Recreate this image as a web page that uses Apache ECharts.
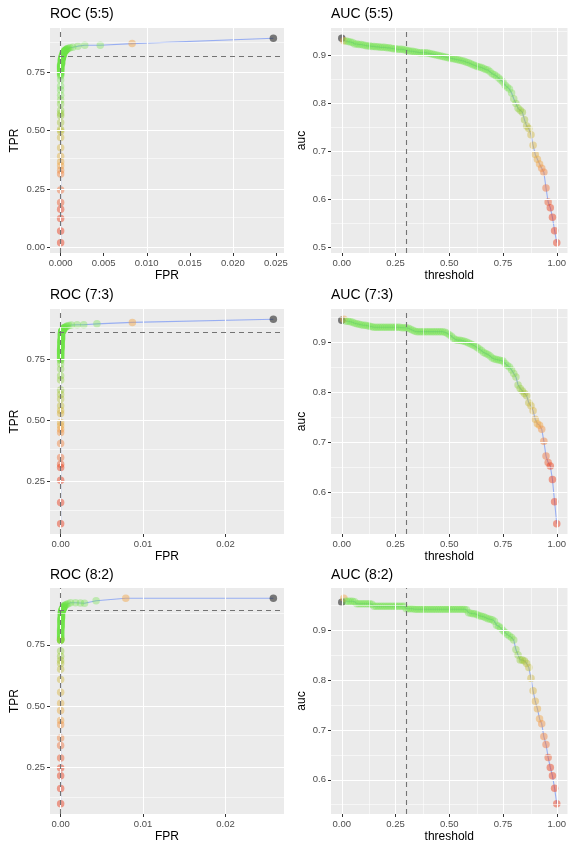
<!DOCTYPE html>
<html>
<head>
<meta charset="utf-8">
<script src="https://cdn.jsdelivr.net/npm/echarts@6/dist/echarts.min.js"></script>
<style>
  html, body { margin: 0; padding: 0; background: #fff; }
  #chart { width: 569px; height: 846px; }
</style>
</head>
<body>
<div id="chart"></div>
<script>
// threshold of every point (same for all six panels)
const thresholds = [
  0.00, 0.01, 0.02, 0.03, 0.04, 0.05, 0.06, 0.07, 0.08, 0.09,
  0.10, 0.11, 0.12, 0.13, 0.14, 0.15, 0.16, 0.17, 0.18, 0.19,
  0.20, 0.21, 0.22, 0.23, 0.24, 0.25, 0.26, 0.27, 0.28, 0.29,
  0.30, 0.31, 0.32, 0.33, 0.34, 0.35, 0.36, 0.37, 0.38, 0.39,
  0.40, 0.41, 0.42, 0.43, 0.44, 0.45, 0.46, 0.47, 0.48, 0.49,
  0.50, 0.51, 0.52, 0.53, 0.54, 0.55, 0.56, 0.57, 0.58, 0.59,
  0.60, 0.61, 0.62, 0.63, 0.64, 0.65, 0.66, 0.67, 0.68, 0.69,
  0.70, 0.71, 0.72, 0.73, 0.74, 0.75, 0.76, 0.77, 0.78, 0.79,
  0.80, 0.81, 0.82, 0.83, 0.84, 0.85, 0.86, 0.87, 0.88, 0.89,
  0.90, 0.91, 0.92, 0.93, 0.94, 0.95, 0.96, 0.97, 0.98, 0.99,
  1.00
];

// ROC 5:5
const fpr55 = [
  0.0247, 0.0083, 0.0046, 0.0028, 0.0020, 0.0014, 0.0011, 0.0009, 0.0008, 0.0007,
  0.0007, 0.0006, 0.0006, 0.0006, 0.0005, 0.0005, 0.0005, 0.0005, 0.0004, 0.0004,
  0.0004, 0.0004, 0.0004, 0.0003, 0.0003, 0.0003, 0.0003, 0.0003, 0.0003, 0.0003,
  0.00027, 0.0002, 0.0002, 0.0002, 0.0002, 0.0002, 0.0002, 0.0002, 0.0002, 0.0002,
  0.0002, 0.0001, 0.0001, 0.0001, 0.0001, 0.0001, 0.0001, 0.0001, 0.0001, 0.0001,
  0.0001, 0.0001, 0.0001, 0.0001, 0.0001, 0.0001, 0, 0, 0, 0,
  0, 0, 0, 0, 0, 0, 0, 0, 0, 0,
  0, 0, 0, 0, 0, 0, 0, 0, 0, 0,
  0, 0, 0, 0, 0, 0, 0, 0, 0, 0,
  0, 0, 0, 0, 0, 0, 0, 0, 0, 0,
  0
];
const tpr55 = [
  0.896, 0.873, 0.866, 0.866, 0.862, 0.857, 0.855, 0.853, 0.851, 0.850,
  0.848, 0.846, 0.845, 0.844, 0.843, 0.842, 0.841, 0.840, 0.839, 0.838,
  0.837, 0.836, 0.834, 0.833, 0.831, 0.830, 0.828, 0.827, 0.825, 0.824,
  0.822, 0.821, 0.820, 0.818, 0.817, 0.816, 0.815, 0.814, 0.812, 0.811,
  0.810, 0.808, 0.807, 0.805, 0.804, 0.802, 0.801, 0.799, 0.797, 0.796,
  0.794, 0.792, 0.790, 0.789, 0.787, 0.785, 0.783, 0.781, 0.779, 0.777,
  0.775, 0.773, 0.771, 0.769, 0.767, 0.765, 0.763, 0.761, 0.758, 0.755,
  0.752, 0.749, 0.746, 0.743, 0.740, 0.734, 0.717, 0.691, 0.674, 0.652,
  0.631, 0.614, 0.588, 0.574, 0.564, 0.535, 0.505, 0.498, 0.471, 0.427,
  0.391, 0.367, 0.350, 0.331, 0.314, 0.246, 0.193, 0.164, 0.124, 0.070,
  0.020
];
const auc55 = [
  0.936, 0.931, 0.930, 0.929, 0.928, 0.927, 0.924, 0.924, 0.923, 0.923,
  0.922, 0.921, 0.920, 0.920, 0.919, 0.919, 0.918, 0.918, 0.917, 0.917,
  0.917, 0.916, 0.916, 0.915, 0.914, 0.914, 0.913, 0.913, 0.913, 0.912,
  0.911, 0.910, 0.909, 0.909, 0.908, 0.907, 0.906, 0.906, 0.906, 0.906,
  0.905, 0.904, 0.903, 0.902, 0.901, 0.900, 0.899, 0.898, 0.897, 0.896,
  0.895, 0.894, 0.893, 0.892, 0.891, 0.890, 0.889, 0.888, 0.886, 0.885,
  0.883, 0.881, 0.879, 0.877, 0.876, 0.875, 0.873, 0.871, 0.870, 0.866,
  0.862, 0.860, 0.857, 0.853, 0.849, 0.845, 0.838, 0.834, 0.830, 0.822,
  0.810, 0.800, 0.790, 0.786, 0.782, 0.766, 0.753, 0.748, 0.735, 0.713,
  0.694, 0.684, 0.674, 0.665, 0.657, 0.624, 0.595, 0.583, 0.563, 0.535,
  0.510
];

// ROC 7:3
const fpr73 = [
  0.0258, 0.0087, 0.0044, 0.0028, 0.0020, 0.0013, 0.0010, 0.0008, 0.0007, 0.0006,
  0.0005, 0.0004, 0.0004, 0.0004, 0.0004, 0.0004, 0.0003, 0.0003, 0.0003, 0.0003,
  0.0003, 0.0003, 0.0003, 0.00015, 0.00015, 0.00015, 0.00015, 0.00015, 0.00015, 0.00015,
  0.00012, 0.0001, 0.0001, 0.0001, 0.0001, 0.0001, 0.0001, 0.0001, 0.0001, 0.0001,
  0.0001, 0.0001, 0.0001, 0.0001, 0.0001, 0.0001, 0.00005, 0.00005, 0.00005, 0.00005,
  0.00005, 0.00005, 0.00005, 0.00005, 0.00005, 0.00005, 0.00005, 0.00005, 0.00005, 0.00005,
  0.00005, 0, 0, 0, 0, 0, 0, 0, 0, 0,
  0, 0, 0, 0, 0, 0, 0, 0, 0, 0,
  0, 0, 0, 0, 0, 0, 0, 0, 0, 0,
  0, 0, 0, 0, 0, 0, 0, 0, 0, 0,
  0
];
const tpr73 = [
  0.915, 0.902, 0.896, 0.892, 0.892, 0.891, 0.889, 0.887, 0.885, 0.883,
  0.881, 0.880, 0.879, 0.878, 0.877, 0.876, 0.875, 0.874, 0.873, 0.872,
  0.871, 0.870, 0.869, 0.868, 0.867, 0.866, 0.865, 0.864, 0.863, 0.862,
  0.861, 0.859, 0.857, 0.855, 0.853, 0.851, 0.849, 0.847, 0.845, 0.843,
  0.841, 0.839, 0.837, 0.835, 0.833, 0.831, 0.829, 0.827, 0.825, 0.823,
  0.820, 0.818, 0.815, 0.813, 0.810, 0.808, 0.806, 0.803, 0.801, 0.799,
  0.796, 0.794, 0.792, 0.789, 0.787, 0.785, 0.782, 0.780, 0.778, 0.775,
  0.773, 0.770, 0.768, 0.765, 0.762, 0.759, 0.756, 0.752, 0.748, 0.745,
  0.731, 0.710, 0.683, 0.665, 0.624, 0.605, 0.587, 0.559, 0.540, 0.527,
  0.490, 0.477, 0.463, 0.449, 0.404, 0.346, 0.319, 0.305, 0.253, 0.161,
  0.074
];
const auc73 = [
  0.945, 0.947, 0.943, 0.943, 0.942, 0.941, 0.939, 0.938, 0.937, 0.936,
  0.935, 0.935, 0.934, 0.933, 0.932, 0.931, 0.931, 0.931, 0.931, 0.931,
  0.931, 0.931, 0.931, 0.931, 0.931, 0.931, 0.931, 0.931, 0.930, 0.930,
  0.930, 0.929, 0.927, 0.925, 0.923, 0.922, 0.922, 0.922, 0.922, 0.922,
  0.922, 0.922, 0.922, 0.922, 0.922, 0.922, 0.922, 0.922, 0.921, 0.919,
  0.916, 0.913, 0.909, 0.906, 0.905, 0.905, 0.904, 0.903, 0.901, 0.899,
  0.897, 0.895, 0.893, 0.890, 0.887, 0.884, 0.880, 0.878, 0.876, 0.873,
  0.869, 0.867, 0.866, 0.865, 0.864, 0.863, 0.858, 0.854, 0.851, 0.845,
  0.838, 0.831, 0.815, 0.808, 0.803, 0.798, 0.793, 0.779, 0.773, 0.763,
  0.746, 0.737, 0.734, 0.726, 0.702, 0.672, 0.659, 0.652, 0.625, 0.580,
  0.536
];

// ROC 8:2
const fpr82 = [
  0.0258, 0.0079, 0.0043, 0.0029, 0.0024, 0.0018, 0.0012, 0.0009, 0.0007, 0.0006,
  0.0005, 0.0004, 0.0004, 0.0004, 0.0004, 0.0004, 0.0003, 0.0003, 0.0003, 0.0003,
  0.0003, 0.0003, 0.0003, 0.0002, 0.0002, 0.0002, 0.0002, 0.0002, 0.0002, 0.0002,
  0.00017, 0.0001, 0.0001, 0.0001, 0.0001, 0.0001, 0.0001, 0.0001, 0.0001, 0.0001,
  0.0001, 0.0001, 0.0001, 0.0001, 0.0001, 0.0001, 0.00005, 0.00005, 0.00005, 0.00005,
  0.00005, 0.00005, 0.00005, 0.00005, 0.00005, 0.00005, 0.00005, 0.00005, 0.00005, 0.00005,
  0.00005, 0, 0, 0, 0, 0, 0, 0, 0, 0,
  0, 0, 0, 0, 0, 0, 0, 0, 0, 0,
  0, 0, 0, 0, 0, 0, 0, 0, 0, 0,
  0, 0, 0, 0, 0, 0, 0, 0, 0, 0,
  0
];
const tpr82 = [
  0.940, 0.940, 0.930, 0.920, 0.921, 0.922, 0.922, 0.918, 0.915, 0.913,
  0.911, 0.909, 0.907, 0.905, 0.904, 0.903, 0.902, 0.901, 0.900, 0.899,
  0.898, 0.897, 0.896, 0.895, 0.894, 0.893, 0.892, 0.891, 0.890, 0.889,
  0.888, 0.886, 0.884, 0.882, 0.880, 0.878, 0.876, 0.874, 0.872, 0.870,
  0.868, 0.866, 0.864, 0.862, 0.860, 0.858, 0.856, 0.854, 0.852, 0.850,
  0.847, 0.845, 0.842, 0.840, 0.837, 0.834, 0.831, 0.828, 0.825, 0.822,
  0.819, 0.816, 0.813, 0.810, 0.807, 0.804, 0.801, 0.798, 0.795, 0.792,
  0.789, 0.786, 0.783, 0.780, 0.778, 0.776, 0.774, 0.772, 0.771, 0.770,
  0.770, 0.769, 0.769, 0.725, 0.704, 0.686, 0.674, 0.650, 0.609, 0.557,
  0.512, 0.482, 0.441, 0.424, 0.370, 0.339, 0.289, 0.248, 0.216, 0.164,
  0.102
];
const auc82 = [
  0.957, 0.965, 0.959, 0.959, 0.959, 0.959, 0.958, 0.954, 0.954, 0.954,
  0.954, 0.954, 0.954, 0.954, 0.953, 0.949, 0.949, 0.949, 0.949, 0.949,
  0.949, 0.949, 0.949, 0.949, 0.949, 0.949, 0.949, 0.949, 0.949, 0.949,
  0.944, 0.944, 0.944, 0.944, 0.943, 0.943, 0.943, 0.943, 0.943, 0.943,
  0.943, 0.943, 0.943, 0.943, 0.943, 0.943, 0.943, 0.943, 0.943, 0.943,
  0.943, 0.943, 0.943, 0.943, 0.943, 0.943, 0.943, 0.943, 0.942, 0.936,
  0.935, 0.934, 0.934, 0.932, 0.930, 0.929, 0.928, 0.926, 0.924, 0.923,
  0.922, 0.919, 0.911, 0.909, 0.905, 0.900, 0.896, 0.892, 0.889, 0.886,
  0.881, 0.862, 0.851, 0.841, 0.841, 0.839, 0.834, 0.826, 0.804, 0.779,
  0.758, 0.743, 0.723, 0.713, 0.687, 0.671, 0.645, 0.625, 0.608, 0.583,
  0.552
];

const cutoff = 0.3;

// tick labels and grid breaks
const rocYTicks55 = [0, 0.25, 0.5, 0.75];
const rocYTicks = [0.25, 0.5, 0.75];
const rocYMinor = [0.125, 0.375, 0.625, 0.875];
const rocXTicks55 = [0, 0.005, 0.01, 0.015, 0.02, 0.025];
const rocXMinor55 = [0.0025, 0.0075, 0.0125, 0.0175, 0.0225];
const rocXTicks = [0, 0.01, 0.02];
const rocXMinor = [0.005, 0.015, 0.025];
const aucXTicks = [0, 0.25, 0.5, 0.75, 1];
const aucXMinor = [0.125, 0.375, 0.625, 0.875];
const aucYTicks55 = [0.5, 0.6, 0.7, 0.8, 0.9];
const aucYMinor55 = [0.55, 0.65, 0.75, 0.85, 0.95];
const aucYTicks = [0.6, 0.7, 0.8, 0.9];
const aucYMinor = [0.55, 0.65, 0.75, 0.85, 0.95];

const FONT = '"Liberation Sans", Arial, Helvetica, sans-serif';

// colour by threshold, red (high) -> orange -> yellow -> green (low); [t, rgb, alpha]
const colorStops = [
  [0.78, [112, 228, 72], 0.45],
  [0.84, [150, 200, 50], 0.52],
  [0.88, [208, 184, 60], 0.56],
  [0.92, [243, 165, 70], 0.58],
  [0.95, [240, 115, 60], 0.58],
  [0.97, [235, 62, 28], 0.58],
  [1.00, [235, 56, 24], 0.58]
];
function pointColor(t) {
  if (t === 0) return 'rgba(0,0,0,0.62)';
  if (t === 0.01) return 'rgba(243,165,70,0.58)';
  if (t <= colorStops[0][0]) return 'rgba(112,228,72,0.45)';
  for (let i = 1; i < colorStops.length; i++) {
    const [t1, c1, a1] = colorStops[i];
    const [t0, c0, a0] = colorStops[i - 1];
    if (t <= t1) {
      const f = (t - t0) / (t1 - t0);
      const c = c0.map((v, k) => Math.round(v + (c1[k] - v) * f));
      return 'rgba(' + c.join(',') + ',' + (a0 + (a1 - a0) * f).toFixed(3) + ')';
    }
  }
  return 'rgba(235,56,24,0.58)';
}

const rowTops = [28, 309, 588];
const rowHeights = [225, 225, 226];
const titleTops = [7, 288, 568];

const panels = [
  { title: 'ROC (5:5)', kind: 'roc', xs: fpr55, ys: tpr55, xTicks: rocXTicks55, xMinor: rocXMinor55, xDigits: 3, yTicks: rocYTicks55, yMinor: rocYMinor, yDigits: 2 },
  { title: 'AUC (5:5)', kind: 'auc', xs: thresholds, ys: auc55, xTicks: aucXTicks, xMinor: aucXMinor, xDigits: 2, yTicks: aucYTicks55, yMinor: aucYMinor55, yDigits: 1 },
  { title: 'ROC (7:3)', kind: 'roc', xs: fpr73, ys: tpr73, xTicks: rocXTicks, xMinor: rocXMinor, xDigits: 2, yTicks: rocYTicks, yMinor: rocYMinor, yDigits: 2 },
  { title: 'AUC (7:3)', kind: 'auc', xs: thresholds, ys: auc73, xTicks: aucXTicks, xMinor: aucXMinor, xDigits: 2, yTicks: aucYTicks, yMinor: aucYMinor, yDigits: 1 },
  { title: 'ROC (8:2)', kind: 'roc', xs: fpr82, ys: tpr82, xTicks: rocXTicks, xMinor: rocXMinor, xDigits: 2, yTicks: rocYTicks, yMinor: rocYMinor, yDigits: 2 },
  { title: 'AUC (8:2)', kind: 'auc', xs: thresholds, ys: auc82, xTicks: aucXTicks, xMinor: aucXMinor, xDigits: 2, yTicks: aucYTicks, yMinor: aucYMinor, yDigits: 1 }
];

const chart = echarts.init(document.getElementById('chart'), null, { renderer: 'canvas' });

const grids = [], xAxes = [], yAxes = [], titles = [], series = [];

function axis(i, ticks, digits, name, gap) {
  return {
    type: 'value',
    gridIndex: i,
    min: v => v.min - 0.05 * (v.max - v.min),
    max: v => v.max + 0.05 * (v.max - v.min),
    axisLine: { show: false, onZero: false },
    axisTick: { show: true, length: 3, customValues: ticks, lineStyle: { color: '#333333', width: 1 } },
    axisLabel: {
      customValues: ticks,
      formatter: v => v.toFixed(digits),
      color: '#4D4D4D', fontSize: 9.5, fontFamily: FONT, margin: 5
    },
    splitLine: { show: false },
    name: name,
    nameLocation: 'middle',
    nameGap: gap,
    nameTextStyle: { color: '#000', fontSize: 12, fontFamily: FONT }
  };
}

panels.forEach((p, i) => {
  const row = Math.floor(i / 2);
  const isRoc = p.kind === 'roc';
  const left = isRoc ? 50 : 331;
  const width = isRoc ? 234 : 238;
  grids.push({
    left: left, top: rowTops[row], width: width, height: rowHeights[row],
    show: true, backgroundColor: '#EBEBEB', borderWidth: 0, containLabel: false
  });
  titles.push({
    text: p.title, left: left, top: titleTops[row], padding: 0,
    textStyle: { color: '#000', fontSize: 14, fontWeight: 'normal', fontFamily: FONT }
  });
  xAxes.push(axis(i, p.xTicks, p.xDigits, isRoc ? 'FPR' : 'threshold', 17));
  yAxes.push(axis(i, p.yTicks, p.yDigits, isRoc ? 'TPR' : 'auc', isRoc ? 29 : 23));

  // panel grid lines
  const major = { color: '#FFFFFF', width: 1.1, type: 'solid' };
  const minor = { color: '#FFFFFF', width: 0.55, type: 'solid' };
  series.push({
    type: 'line', xAxisIndex: i, yAxisIndex: i, data: [], silent: true, z: 1,
    markLine: {
      silent: true, symbol: 'none', animation: false, label: { show: false },
      data: [].concat(
        p.xMinor.map(v => ({ xAxis: v, lineStyle: minor })),
        p.yMinor.map(v => ({ yAxis: v, lineStyle: minor })),
        p.xTicks.map(v => ({ xAxis: v, lineStyle: major })),
        p.yTicks.map(v => ({ yAxis: v, lineStyle: major }))
      )
    }
  });

  const pts = thresholds.map((t, k) => [p.xs[k], p.ys[k], t]);

  series.push({
    type: 'line', xAxisIndex: i, yAxisIndex: i, data: pts,
    showSymbol: false, silent: true, z: 2,
    lineStyle: { color: '#98AEF2', width: 1.1 }
  });
  series.push({
    type: 'scatter', xAxisIndex: i, yAxisIndex: i, data: pts,
    symbolSize: 7.5, silent: true, z: 3,
    itemStyle: { color: params => pointColor(params.value[2]) }
  });

  // dashed lines at the chosen cut-off
  const ci = thresholds.indexOf(cutoff);
  const dashed = { color: '#737373', width: 1.1, type: [5, 4] };
  const lines = isRoc
    ? [{ xAxis: p.xs[ci], lineStyle: dashed }, { yAxis: p.ys[ci], lineStyle: dashed }]
    : [{ xAxis: cutoff, lineStyle: dashed }];
  series.push({
    type: 'line', xAxisIndex: i, yAxisIndex: i, data: [], silent: true, z: 4,
    markLine: { silent: true, symbol: 'none', animation: false, label: { show: false }, data: lines }
  });
});

chart.setOption({
  animation: false,
  backgroundColor: '#FFFFFF',
  title: titles,
  grid: grids,
  xAxis: xAxes,
  yAxis: yAxes,
  series: series
});
</script>
</body>
</html>
